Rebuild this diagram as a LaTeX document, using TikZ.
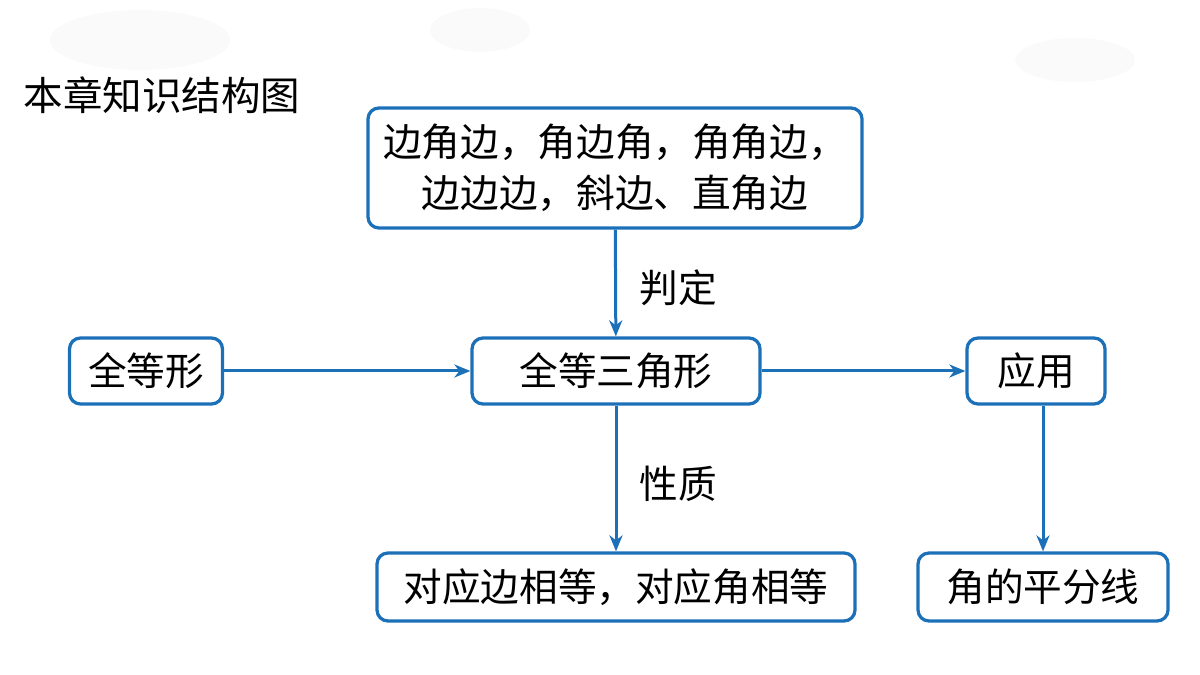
\documentclass[tikz,border=0pt]{standalone}
\usepackage{fontspec}
\setmainfont{Noto Sans CJK SC}
\usetikzlibrary{arrows.meta}
\definecolor{bl}{RGB}{28,112,184}
\begin{document}
\begin{tikzpicture}[x=0.02cm,y=-0.02cm,
 box/.style={draw=bl,line width=0.065cm,rounded corners=0.22cm,align=center,font=\fontsize{22}{29}\selectfont,inner sep=0pt},
 arr/.style={draw=bl,line width=0.06cm,-{Stealth[length=0.32cm,width=0.26cm,inset=0.1cm]}},
 lab/.style={font=\fontsize{22}{26}\selectfont},
 cloud/.style={fill=gray!4,draw=none}]
\useasboundingbox (0,0) rectangle (1200,675);
\fill[cloud] (140,40) ellipse (90 and 30);
\fill[cloud] (480,30) ellipse (50 and 22);
\fill[cloud] (1075,60) ellipse (60 and 22);
\node[lab,font=\fontsize{22.5}{26}\selectfont] (t) at (162,95) {本章知识结构图};
\node[box,minimum width=494*0.02cm,minimum height=120*0.02cm] (top) at (615,168) {边角边，角边角，角角边，\\边边边，斜边、直角边};
\node[box,minimum width=153*0.02cm,minimum height=66*0.02cm] (qd) at (146,371) {全等形};
\node[box,minimum width=288*0.02cm,minimum height=66*0.02cm] (tri) at (616,371) {全等三角形};
\node[box,minimum width=138*0.02cm,minimum height=66*0.02cm] (app) at (1036,371) {应用};
\node[box,minimum width=478*0.02cm,minimum height=68*0.02cm] (b1) at (616,587) {对应边相等，对应角相等};
\node[box,minimum width=250*0.02cm,minimum height=68*0.02cm] (b2) at (1043,587) {角的平分线};
\draw[arr] (top) -- (tri);
\draw[arr] (qd) -- (tri);
\draw[arr] (tri) -- (app);
\draw[arr] (tri) -- (b1);
\draw[arr] (b2.north |- app.south) -- (b2.north);
\node[lab] (l1) at (678,288) {判定};
\node[lab] (l2) at (678,484) {性质};
\end{tikzpicture}
\end{document}
